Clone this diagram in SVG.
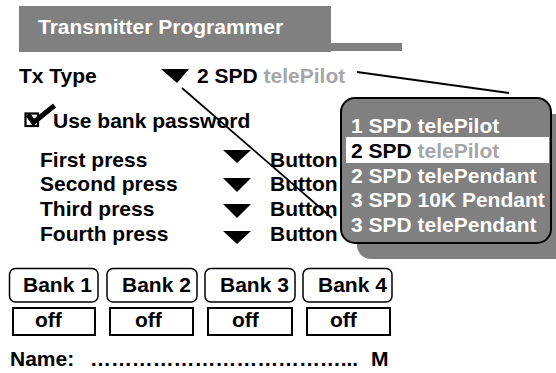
<svg xmlns="http://www.w3.org/2000/svg" width="556" height="373" viewBox="0 0 556 373">
<style>
text{font-family:"Liberation Sans",Arial,sans-serif;font-weight:bold;font-size:21px;fill:#000}
.w{fill:#fff}
.lg{fill:#a6a6a6}
.gray{fill:#808080}
.tri{fill:#000}
.bank{fill:#fff;stroke:#000;stroke-width:1.5}
.off{fill:#fff;stroke:#000;stroke-width:2}
.conn{stroke:#000;stroke-width:1.8;fill:none}
</style>
<rect width="556" height="373" fill="#fff"/>
<g id="title">
<rect class="gray" x="19" y="6" width="312" height="46"/>
<rect class="gray" x="331" y="43" width="71" height="8"/>
<text class="w" x="38" y="34">Transmitter Programmer</text>
</g>
<g id="txtype">
<text x="19" y="83">Tx Type</text>
<polygon class="tri" points="161,69 189,69 177,83"/>
<text x="197" y="83">2 SPD <tspan class="lg">telePilot</tspan></text>
</g>
<g id="password">
<rect x="25.5" y="113.5" width="12.5" height="12.5" fill="none" stroke="#000" stroke-width="2.2"/>
<polyline points="28,114.5 33.5,122.5 54.5,105.5" fill="none" stroke="#000" stroke-width="5" stroke-linejoin="miter"/>
<text x="53" y="128">Use bank password</text>
</g>
<g id="presses">
<text x="40" y="167">First press</text>
<polygon class="tri" points="223,150 251,150 237,163"/>
<text x="270" y="167">Button</text>
<text x="40" y="191">Second press</text>
<polygon class="tri" points="223,178 251,178 237,192"/>
<text x="270" y="191">Button</text>
<text x="40" y="216">Third press</text>
<polygon class="tri" points="223,204 251,204 237,218"/>
<text x="270" y="216">Button</text>
<text x="40" y="241">Fourth press</text>
<polygon class="tri" points="223,231 251,231 237,244"/>
<text x="270" y="241">Button 3</text>
</g>
<g id="connectors">
<line class="conn" x1="182" y1="88" x2="332" y2="218"/>
<line class="conn" x1="357" y1="72" x2="509" y2="93"/>
</g>
<g id="popup">
<rect class="gray" x="357" y="114" width="212" height="145" rx="14"/>
<rect class="gray" x="341" y="98" width="210" height="145" rx="14" stroke="#000" stroke-width="2"/>
<rect x="346" y="137" width="203" height="26" fill="#fff"/>
<text class="w" x="351" y="133">1 SPD telePilot</text>
<text x="351" y="158">2 SPD <tspan class="lg">telePilot</tspan></text>
<text class="w" x="351" y="183">2 SPD telePendant</text>
<text class="w" x="351" y="207">3 SPD 10K Pendant</text>
<text class="w" x="351" y="232">3 SPD telePendant</text>
</g>
<g id="bank1">
<rect class="bank" x="9.5" y="268.5" width="88.5" height="33.5" rx="6"/>
<text x="23" y="292">Bank 1</text>
<rect class="off" x="13" y="308" width="82" height="27"/>
<text x="35" y="327">off</text>
</g>
<g id="bank2">
<rect class="bank" x="107" y="268.5" width="90" height="33.5" rx="6"/>
<text x="122" y="292">Bank 2</text>
<rect class="off" x="110" y="308" width="83" height="27"/>
<text x="135" y="327">off</text>
</g>
<g id="bank3">
<rect class="bank" x="205" y="268.5" width="90" height="33.5" rx="6"/>
<text x="220" y="292">Bank 3</text>
<rect class="off" x="208" y="308" width="84" height="27"/>
<text x="232" y="327">off</text>
</g>
<g id="bank4">
<rect class="bank" x="303" y="268.5" width="89" height="33.5" rx="6"/>
<text x="318" y="292">Bank 4</text>
<rect class="off" x="307" y="308" width="83" height="27"/>
<text x="330" y="327">off</text>
</g>
<g id="name">
<text x="10" y="366">Name:</text>
<text x="90" y="366" textLength="268" lengthAdjust="spacing">&#8230;&#8230;&#8230;&#8230;&#8230;&#8230;&#8230;&#8230;&#8230;&#8230;&#8230;&#8230;...</text>
<text x="371" y="366">M</text>
</g>
</svg>
